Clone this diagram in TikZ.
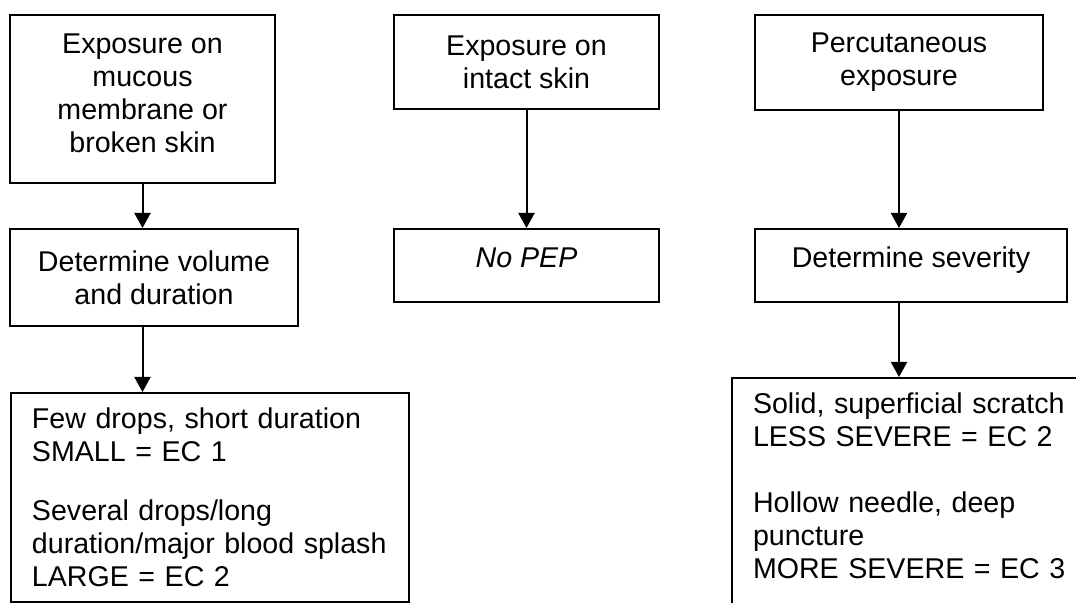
\documentclass[tikz,border=0pt]{standalone}
\usepackage{fontspec}
\setmainfont{Liberation Sans}
\usetikzlibrary{positioning}
\usetikzlibrary{math}
\usetikzlibrary{arrows.meta}

\begin{document}
\begin{tikzpicture}[x=0.5pt,y=-0.5pt,line width=1pt,
	>={Triangle[length=7.5pt,width=8pt]},
	stepbox/.style={draw,inner sep=0pt,align=center,
		font=\fontsize{14.3}{16.5}\selectfont},
	onebox/.style={stepbox,text height=10.5pt,text depth=8pt},
	outbox/.style={draw,anchor=north west,align=left,
		inner xsep=10.5pt,inner ysep=7.5pt,
		font=\fontsize{14.3}{16.5}\selectfont}]
	\tikzmath{\ca=142.5; \cb=526.5; \cc=899;}
	\useasboundingbox (0,0) rectangle (1076,603);
	\clip (0,0) rectangle (1076,603);
	% first row
	\node[stepbox,minimum width=132.5pt,minimum height=84pt] (mucous) at (\ca,99)
		{Exposure on\\mucous\\membrane or\\broken skin\\[-11pt]\mbox{}};
	\node[stepbox,minimum width=132.5pt,minimum height=47pt] (intact) at (\cb,62)
		{Exposure on\\intact skin};
	\node[stepbox,minimum width=144pt,minimum height=47.5pt] (percut) at (\cc,62.5)
		{Percutaneous\\exposure};
	% second row
	\node[stepbox,minimum width=144pt,minimum height=48.5pt] (volume) at (154,277.5)
		{Determine volume\\and duration};
	\node[onebox,minimum width=132.5pt,minimum height=36.5pt] (nopep) at (\cb,265.5)
		{\itshape No PEP};
	\node[onebox,minimum width=156pt,minimum height=36.5pt] (severity) at (911,265.5)
		{Determine severity};
	% third row
	\node[outbox,text width=178pt] (small) at (10,392)
		{Few drops, short duration\\SMALL = EC 1\\[13pt]
		Several drops/long\\duration/major blood splash\\LARGE = EC 2};
	\node[outbox,text width=170pt] (severe) at (731,377)
		{Solid, superficial scratch\\LESS SEVERE = EC 2\\[16.5pt]
		Hollow needle, deep\\puncture\\MORE SEVERE = EC 3\\[6pt]\mbox{}};
	% arrows
	\draw[->] (mucous.south) -- (mucous.south |- volume.north);
	\draw[->] (mucous.south |- volume.south) -- (mucous.south |- small.north);
	\draw[->] (intact.south) -- (nopep.north);
	\draw[->] (percut.south) -- (percut.south |- severity.north);
	\draw[->] (percut.south |- severity.south) -- (percut.south |- severe.north);
\end{tikzpicture}
\end{document}
